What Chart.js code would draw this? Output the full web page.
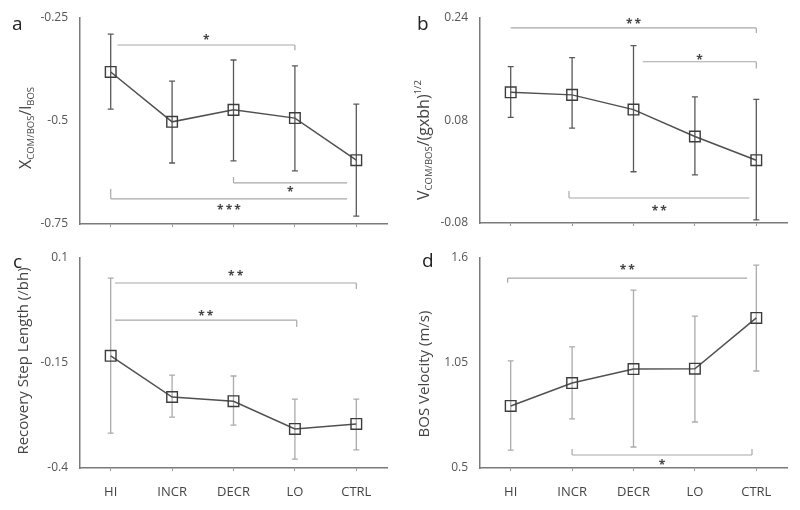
<!DOCTYPE html>
<html>
<head>
<meta charset="utf-8">
<script src="https://cdn.jsdelivr.net/npm/chart.js@4.4.0/dist/chart.umd.min.js"></script>
<style>
  html, body { margin: 0; padding: 0; background: #fff; }
  #wrap { position: relative; width: 800px; height: 510px; }
  .panel { position: absolute; }
</style>
</head>
<body>
<div id="wrap">
  <div class="panel" style="left:0;top:0;"><canvas id="chartA" width="400" height="240"></canvas></div>
  <div class="panel" style="left:400px;top:0;"><canvas id="chartB" width="400" height="240"></canvas></div>
  <div class="panel" style="left:0;top:240px;"><canvas id="chartC" width="400" height="270"></canvas></div>
  <div class="panel" style="left:400px;top:240px;"><canvas id="chartD" width="400" height="270"></canvas></div>
</div>
<script>
// ── Data ────────────────────────────────────────────────
const groups = ['HI', 'INCR', 'DECR', 'LO', 'CTRL'];

// a: X_COM/BOS / l_BOS
const aMean  = [-0.381, -0.502, -0.473, -0.493, -0.595];
const aUpper = [-0.289, -0.403, -0.352, -0.366, -0.459];
const aLower = [-0.471, -0.602, -0.597, -0.621, -0.731];
const aTicks = [-0.75, -0.5, -0.25];
const aTickLabels = ['-0.75', '-0.5', '-0.25'];

// b: V_COM/BOS / (g x bh)^1/2
const bMean  = [0.124, 0.120, 0.097, 0.055, 0.018];
const bUpper = [0.164, 0.178, 0.197, 0.117, 0.113];
const bLower = [0.085, 0.068, 0.000, -0.005, -0.075];
const bTicks = [-0.08, 0.08, 0.24];
const bTickLabels = ['-0.08', '0.08', '0.24'];

// c: recovery step length
const cMean  = [-0.133, -0.231, -0.241, -0.307, -0.295];
const cUpper = [0.052, -0.179, -0.181, -0.236, -0.236];
const cLower = [-0.317, -0.279, -0.298, -0.379, -0.357];
const cTicks = [-0.4, -0.15, 0.1];
const cTickLabels = ['-0.4', '-0.15', '0.1'];

// d: BOS velocity
const dMean  = [0.825, 0.945, 1.018, 1.020, 1.286];
const dUpper = [1.061, 1.134, 1.432, 1.296, 1.563];
const dLower = [0.594, 0.757, 0.610, 0.741, 1.008];
const dTicks = [0.5, 1.05, 1.6];
const dTickLabels = ['0.5', '1.05', '1.6'];

// significance brackets: [fromIdx, toIdx, lineValue, hookValue, hookEnd, stars, starValue]
const aBrackets = [
    [0.11, 3.0,  -0.3155, -0.328, 'right', '*',   -0.2985],
    [2.0,  3.85, -0.650,  -0.636, 'left',  '*',   -0.667],
    [0.0,  3.85, -0.689,  -0.665, 'left',  '***', -0.709],
];
const bBrackets = [
    [0.0,  4.0,  0.2245, 0.2167, 'right', '**', 0.234],
    [2.15, 4.0,  0.1717, 0.161,  'right', '*',  0.179],
    [0.95, 3.89, -0.041, -0.030, 'left',  '**', -0.058],
];
const cBrackets = [
    [0.07, 4.0,  0.0405, 0.026,  'right', '**', 0.064],
    [0.07, 3.03, -0.048, -0.064, 'right', '**', -0.033],
];
const dBrackets = [
    [-0.05, 3.85, 1.495, 1.47, 'left', '**', 1.548],
    [1.0,   3.93, 0.568, 0.60, 'both', '*',  0.531],
];

const FONT = '"Open Sans", "Noto Sans", sans-serif';

// ── Helpers ─────────────────────────────────────────────
function drawRotTitle(ctx, segs, bx, cy) {
    ctx.save();
    ctx.translate(bx, cy);
    ctx.rotate(-Math.PI / 2);
    const widths = segs.map(s => { ctx.font = s.size + 'px ' + FONT; return ctx.measureText(s.text).width; });
    let x = -widths.reduce((a, b) => a + b, 0) / 2;
    ctx.fillStyle = '#444';
    ctx.textAlign = 'left';
    ctx.textBaseline = 'alphabetic';
    segs.forEach((s, i) => {
        ctx.font = s.size + 'px ' + FONT;
        ctx.fillText(s.text, x, s.dy || 0);
        x += widths[i];
    });
    ctx.restore();
}

// strip the label overflow padding so the plot box lands where we want it
function noPad(s) {
    s.paddingTop = 0; s.paddingBottom = 0; s.paddingLeft = 0; s.paddingRight = 0;
}

function makePanel(id, cfg) {
    const errorBars = {
        id: 'errorBars',
        beforeDatasetsDraw(chart) {
            const { ctx } = chart;
            const y = chart.scales.y;
            const pts = chart.getDatasetMeta(0).data;
            ctx.save();
            ctx.strokeStyle = cfg.errColor;
            ctx.lineWidth = 1.3;
            pts.forEach((p, i) => {
                const yt = y.getPixelForValue(cfg.upper[i]);
                const yb = y.getPixelForValue(cfg.lower[i]);
                ctx.beginPath();
                ctx.moveTo(p.x, yt); ctx.lineTo(p.x, yb);
                ctx.moveTo(p.x - 3, yt); ctx.lineTo(p.x + 3, yt);
                ctx.moveTo(p.x - 3, yb); ctx.lineTo(p.x + 3, yb);
                ctx.stroke();
            });
            ctx.restore();
        }
    };

    const brackets = {
        id: 'brackets',
        afterDatasetsDraw(chart) {
            const { ctx } = chart;
            const xs = chart.scales.x, ys = chart.scales.y;
            ctx.save();
            cfg.brackets.forEach(([from, to, val, hook, end, stars, starVal]) => {
                const x1 = xs.getPixelForValue(from), x2 = xs.getPixelForValue(to);
                const yl = ys.getPixelForValue(val), yh = ys.getPixelForValue(hook);
                ctx.strokeStyle = '#a8a8a8';
                ctx.lineWidth = 1.2;
                ctx.beginPath();
                ctx.moveTo(x1, yl); ctx.lineTo(x2, yl);
                if (end === 'left' || end === 'both') { ctx.moveTo(x1, yl); ctx.lineTo(x1, yh); }
                if (end === 'right' || end === 'both') { ctx.moveTo(x2, yl); ctx.lineTo(x2, yh); }
                ctx.stroke();
                ctx.fillStyle = '#444';
                ctx.font = 'bold 12px ' + FONT;
                ctx.textAlign = 'center';
                ctx.textBaseline = 'middle';
                ctx.fillText(stars.split('').join('\u2009'), (x1 + x2) / 2, ys.getPixelForValue(starVal) + 3);
            });
            ctx.restore();
        }
    };

    const labels = {
        id: 'panelLabels',
        afterDraw(chart) {
            const { ctx } = chart;
            ctx.save();
            ctx.fillStyle = '#222';
            ctx.font = '19px ' + FONT;
            ctx.textAlign = 'left';
            ctx.textBaseline = 'alphabetic';
            ctx.fillText(cfg.letter, cfg.letterPos[0], cfg.letterPos[1]);
            ctx.restore();
            drawRotTitle(ctx, cfg.title, cfg.titlePos[0], cfg.titlePos[1]);
        }
    };

    return new Chart(document.getElementById(id), {
        type: 'line',
        data: {
            labels: groups,
            datasets: [{
                data: cfg.mean,
                borderColor: '#505050',
                borderWidth: 1.5,
                tension: 0,
                pointStyle: 'rect',
                pointRadius: 7.5,
                pointBorderWidth: 1.4,
                pointBorderColor: '#3c3c3c',
                pointBackgroundColor: 'rgba(255,255,255,0)',
            }]
        },
        options: {
            responsive: false,
            animation: false,
            events: [],
            layout: { padding: { top: 18, right: 13, left: 0, bottom: 0 } },
            plugins: { legend: { display: false }, tooltip: { enabled: false } },
            scales: {
                x: {
                    offset: true,
                    afterFit: s => { s.height = cfg.xHeight; noPad(s); },
                    border: { color: '#7a7a7a', width: 1.5 },
                    grid: { display: true, drawOnChartArea: false, drawTicks: true, tickLength: 3, color: '#999' },
                    ticks: {
                        display: cfg.showX,
                        padding: 13,
                        color: '#444',
                        font: { family: FONT, size: 13 }
                    }
                },
                y: {
                    min: cfg.ticks[0],
                    max: cfg.ticks[cfg.ticks.length - 1],
                    afterBuildTicks: s => { s.ticks = cfg.ticks.map(v => ({ value: v })); },
                    afterFit: s => { s.width = 80; noPad(s); },
                    border: { color: '#7a7a7a', width: 1.5 },
                    grid: { display: false, drawTicks: false },
                    ticks: {
                        padding: 12,
                        color: '#555',
                        font: { family: FONT, size: 12 },
                        callback: (v, i) => cfg.tickLabels[i]
                    }
                }
            }
        },
        plugins: [errorBars, brackets, labels]
    });
}

// ── Build panels ────────────────────────────────────────
makePanel('chartA', {
    mean: aMean, upper: aUpper, lower: aLower, ticks: aTicks, tickLabels: aTickLabels,
    brackets: aBrackets, errColor: '#5a5a5a', showX: false, xHeight: 16,
    letter: 'a', letterPos: [12, 30], titlePos: [31, 128],
    title: [
        { text: 'X', size: 16 },
        { text: 'COM/BOS', size: 9.5, dy: 3 },
        { text: '/l', size: 16 },
        { text: 'BOS', size: 9.5, dy: 3 },
    ]
});

makePanel('chartB', {
    mean: bMean, upper: bUpper, lower: bLower, ticks: bTicks, tickLabels: bTickLabels,
    brackets: bBrackets, errColor: '#5a5a5a', showX: false, xHeight: 17,
    letter: 'b', letterPos: [17, 30], titlePos: [29, 140],
    title: [
        { text: 'V', size: 16 },
        { text: 'COM/BOS', size: 9.5, dy: 3 },
        { text: '/(gxbh)', size: 16 },
        { text: '1/2', size: 9.5, dy: -8 },
    ]
});

makePanel('chartC', {
    mean: cMean, upper: cUpper, lower: cLower, ticks: cTicks, tickLabels: cTickLabels,
    brackets: cBrackets, errColor: '#ababab', showX: true, xHeight: 42,
    letter: 'c', letterPos: [13, 28], titlePos: [28, 121],
    title: [{ text: 'Recovery Step Length (/bh)', size: 15 }]
});

makePanel('chartD', {
    mean: dMean, upper: dUpper, lower: dLower, ticks: dTicks, tickLabels: dTickLabels,
    brackets: dBrackets, errColor: '#ababab', showX: true, xHeight: 42,
    letter: 'd', letterPos: [22, 27], titlePos: [29, 134],
    title: [{ text: 'BOS Velocity (m/s)', size: 15 }]
});
</script>
</body>
</html>
